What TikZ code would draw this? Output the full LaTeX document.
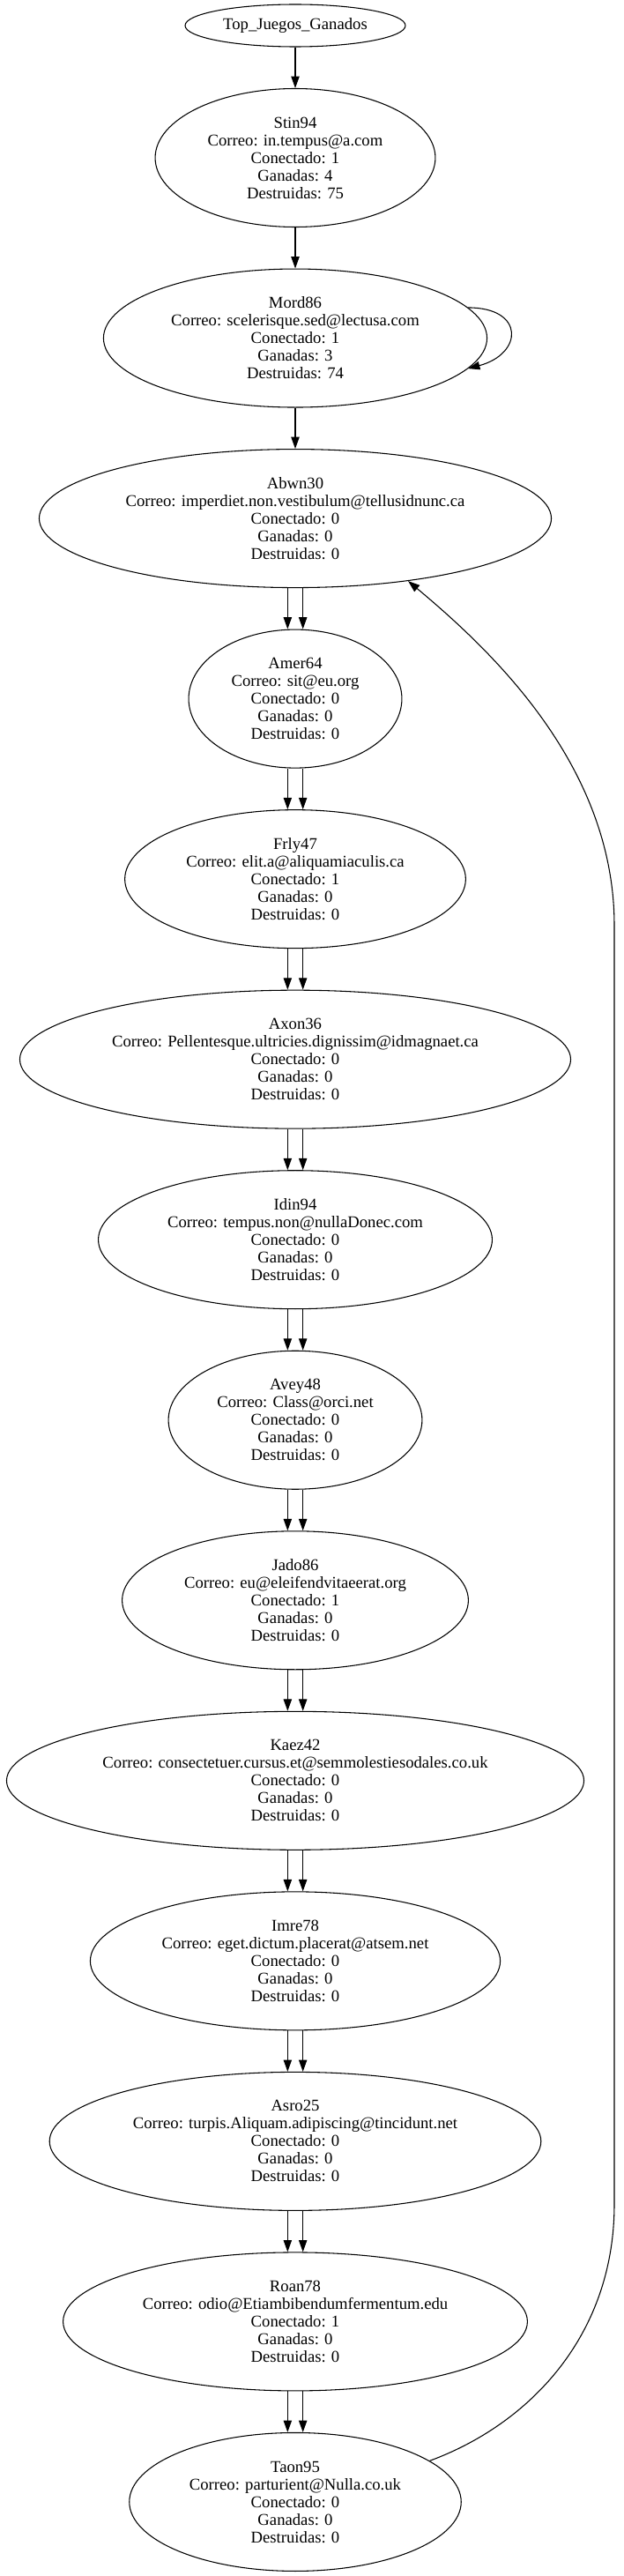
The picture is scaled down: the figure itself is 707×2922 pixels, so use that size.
\documentclass[tikz,border=0pt]{standalone}
\usepackage{fontspec}
\setmainfont{Liberation Serif}
\usetikzlibrary{positioning,shapes,arrows.meta}

\begin{document}
\begin{tikzpicture}[x=0.75pt, y=-0.75pt, node distance={153.4pt}, thick, >={Triangle[length=10pt,width=7pt]},
    raiz/.style = {draw, ellipse, inner sep=0pt, minimum width=187.5pt, minimum height=36pt, font=\fontsize{14}{15}\selectfont},
    jugador/.style = {draw, ellipse, align=center, inner xsep=9.8pt, inner ysep=0pt, minimum height=117.75pt, font=\fontsize{14}{15}\selectfont}]
            \useasboundingbox (0,0) rectangle (707,2922);
            \node[raiz] (top) at (335,29) {Top\_Juegos\_Ganados};
            \node[jugador] (stin94) [node distance=112.5pt, below of=top] {Stin94\\Correo: in.tempus@a.com\\Conectado: 1\\Ganadas: 4\\Destruidas: 75};
            \node[jugador] (mord86) [below of=stin94] {Mord86\\Correo: scelerisque.sed@lectusa.com\\Conectado: 1\\Ganadas: 3\\Destruidas: 74};
            \node[jugador] (abwn30) [below of=mord86] {Abwn30\\Correo: imperdiet.non.vestibulum@tellusidnunc.ca\\Conectado: 0\\Ganadas: 0\\Destruidas: 0};
            \node[jugador] (amer64) [below of=abwn30] {Amer64\\Correo: sit@eu.org\\Conectado: 0\\Ganadas: 0\\Destruidas: 0};
            \node[jugador] (frly47) [below of=amer64] {Frly47\\Correo: elit.a@aliquamiaculis.ca\\Conectado: 1\\Ganadas: 0\\Destruidas: 0};
            \node[jugador] (axon36) [below of=frly47] {Axon36\\Correo: Pellentesque.ultricies.dignissim@idmagnaet.ca\\Conectado: 0\\Ganadas: 0\\Destruidas: 0};
            \node[jugador] (idin94) [below of=axon36] {Idin94\\Correo: tempus.non@nullaDonec.com\\Conectado: 0\\Ganadas: 0\\Destruidas: 0};
            \node[jugador] (avey48) [below of=idin94] {Avey48\\Correo: Class@orci.net\\Conectado: 0\\Ganadas: 0\\Destruidas: 0};
            \node[jugador] (jado86) [below of=avey48] {Jado86\\Correo: eu@eleifendvitaeerat.org\\Conectado: 1\\Ganadas: 0\\Destruidas: 0};
            \node[jugador] (kaez42) [below of=jado86] {Kaez42\\Correo: consectetuer.cursus.et@semmolestiesodales.co.uk\\Conectado: 0\\Ganadas: 0\\Destruidas: 0};
            \node[jugador] (imre78) [below of=kaez42] {Imre78\\Correo: eget.dictum.placerat@atsem.net\\Conectado: 0\\Ganadas: 0\\Destruidas: 0};
            \node[jugador] (asro25) [below of=imre78] {Asro25\\Correo: turpis.Aliquam.adipiscing@tincidunt.net\\Conectado: 0\\Ganadas: 0\\Destruidas: 0};
            \node[jugador] (roan78) [below of=asro25] {Roan78\\Correo: odio@Etiambibendumfermentum.edu\\Conectado: 1\\Ganadas: 0\\Destruidas: 0};
            \node[jugador] (taon95) [below of=roan78] {Taon95\\Correo: parturient@Nulla.co.uk\\Conectado: 0\\Ganadas: 0\\Destruidas: 0};
            \draw[->] (top) -- (stin94);
            \draw[->] (stin94) -- (mord86);
            \draw[->] (mord86.10) to [out=0,in=15,looseness=2.4] (mord86.-10);
            \draw[->] (mord86) -- (abwn30);
            \draw[->] ([xshift=-6.5pt]abwn30.south) -- ([xshift=-6.5pt]amer64.north);
            \draw[->] ([xshift=6.5pt]abwn30.south) -- ([xshift=6.5pt]amer64.north);
            \draw[->] ([xshift=-6.5pt]amer64.south) -- ([xshift=-6.5pt]frly47.north);
            \draw[->] ([xshift=6.5pt]amer64.south) -- ([xshift=6.5pt]frly47.north);
            \draw[->] ([xshift=-6.5pt]frly47.south) -- ([xshift=-6.5pt]axon36.north);
            \draw[->] ([xshift=6.5pt]frly47.south) -- ([xshift=6.5pt]axon36.north);
            \draw[->] ([xshift=-6.5pt]axon36.south) -- ([xshift=-6.5pt]idin94.north);
            \draw[->] ([xshift=6.5pt]axon36.south) -- ([xshift=6.5pt]idin94.north);
            \draw[->] ([xshift=-6.5pt]idin94.south) -- ([xshift=-6.5pt]avey48.north);
            \draw[->] ([xshift=6.5pt]idin94.south) -- ([xshift=6.5pt]avey48.north);
            \draw[->] ([xshift=-6.5pt]avey48.south) -- ([xshift=-6.5pt]jado86.north);
            \draw[->] ([xshift=6.5pt]avey48.south) -- ([xshift=6.5pt]jado86.north);
            \draw[->] ([xshift=-6.5pt]jado86.south) -- ([xshift=-6.5pt]kaez42.north);
            \draw[->] ([xshift=6.5pt]jado86.south) -- ([xshift=6.5pt]kaez42.north);
            \draw[->] ([xshift=-6.5pt]kaez42.south) -- ([xshift=-6.5pt]imre78.north);
            \draw[->] ([xshift=6.5pt]kaez42.south) -- ([xshift=6.5pt]imre78.north);
            \draw[->] ([xshift=-6.5pt]imre78.south) -- ([xshift=-6.5pt]asro25.north);
            \draw[->] ([xshift=6.5pt]imre78.south) -- ([xshift=6.5pt]asro25.north);
            \draw[->] ([xshift=-6.5pt]asro25.south) -- ([xshift=-6.5pt]roan78.north);
            \draw[->] ([xshift=6.5pt]asro25.south) -- ([xshift=6.5pt]roan78.north);
            \draw[->] ([xshift=-6.5pt]roan78.south) -- ([xshift=-6.5pt]taon95.north);
            \draw[->] ([xshift=6.5pt]roan78.south) -- ([xshift=6.5pt]taon95.north);
            \draw[->] (taon95.17) .. controls (600,2750) and (697,2650) .. (697,2500) -- (697,1050) .. controls (697,870) and (560,740) .. (abwn30.-29);
        \end{tikzpicture}
\end{document}
